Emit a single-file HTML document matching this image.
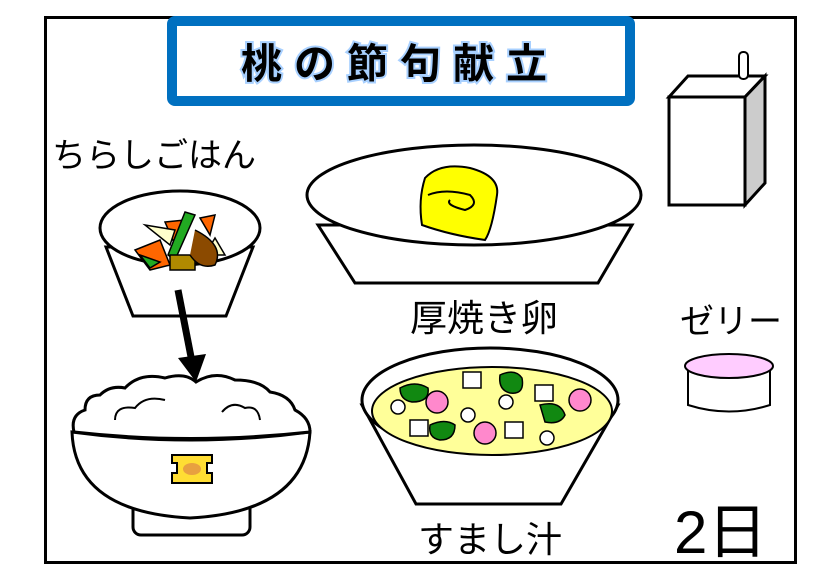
<!DOCTYPE html>
<html><head><meta charset="utf-8"><style>
html,body{margin:0;padding:0;background:#fff;}
svg{display:block;}
text{font-family:"Liberation Sans","Noto Sans CJK JP",sans-serif;}
</style></head><body>
<svg width="840" height="580" viewBox="0 0 840 580" xmlns="http://www.w3.org/2000/svg">
<rect x="0" y="0" width="840" height="580" fill="#fff"/>
<rect x="45.5" y="17.5" width="750" height="545" fill="none" stroke="#000" stroke-width="3"/>
<!-- title -->
<rect x="172" y="21" width="458" height="80" rx="3" fill="#fff" stroke="#0070c0" stroke-width="10"/>
<text x="400" y="78" text-anchor="middle" font-size="41" font-weight="bold" letter-spacing="12" fill="#000" stroke="#a8d0ff" stroke-width="4" paint-order="stroke">桃の節句献立</text>
<!-- labels -->
<text x="52" y="167" font-size="34">ちらしごはん</text>
<text x="410" y="331" font-size="37">厚焼き卵</text>
<text x="680" y="333" font-size="34">ゼリー</text>
<text x="418" y="552" font-size="36">すまし汁</text>
<text x="674" y="553" font-size="60">2日</text>
<!-- chirashi bowl -->
<g stroke="#000" stroke-width="3" fill="#fff">
<path d="M106,247 L133,316 L226,316 L253,247 Z"/>
<ellipse cx="180" cy="228" rx="80" ry="37"/>
</g>
<g stroke="#000" stroke-width="1.5">
<polygon points="135,250 160,240 170,265 150,270" fill="#ff6600"/>
<polygon points="165,222 185,220 175,245" fill="#ff6600"/>
<polygon points="200,218 215,215 210,235" fill="#ff6600"/>
<polygon points="145,225 175,230 170,245" fill="#ffffcc"/>
<polygon points="215,238 225,255 205,255" fill="#ffffcc"/>
<polygon points="185,212 195,215 175,260 168,255" fill="#22aa22"/>
<rect x="170" y="255" width="25" height="15" fill="#b08a00"/>
<path d="M195,230 Q225,245 215,265 Q200,270 190,255" fill="#8b4a00"/>
<polygon points="140,255 160,262 150,268" fill="#22aa22"/>
</g>
<!-- arrow -->
<line x1="178" y1="290" x2="192" y2="362" stroke="#000" stroke-width="7"/>
<polygon points="178,358 206,354 196,382" fill="#000"/>
<!-- rice bowl -->
<g stroke="#000" stroke-width="3" fill="#fff">
<rect x="133" y="500" width="117" height="35" rx="8"/>
<path d="M72,432 Q75,512 190,518 Q305,512 310,432 Q190,448 72,432 Z"/>
<path d="M74,432 Q70,415 85,410 Q85,395 100,395 Q110,385 125,388 Q140,372 165,378 Q185,372 196,382 Q215,370 235,380 Q260,380 270,392 Q290,395 295,410 Q310,418 310,432 Q190,445 74,432 Z"/>
<path d="M115,420 Q115,405 135,408 Q145,395 165,400" fill="none" stroke-width="2"/>
<path d="M222,412 Q232,400 245,408 Q258,405 260,420" fill="none" stroke-width="2"/>
</g>
<g stroke="#000" stroke-width="2" fill="#ffdd33">
<path d="M172,455 h40 v8 h-5 v10 h5 v10 h-40 v-10 h5 v-10 h-5 Z"/>
</g>
<ellipse cx="192" cy="469" rx="9" ry="6" fill="#e8a040"/>
<!-- plate -->
<g stroke="#000" stroke-width="3" fill="#fff">
<path d="M318,225 L355,283 L598,283 L632,225 Z"/>
<ellipse cx="474" cy="195" rx="167" ry="50"/>
</g>
<path d="M425,178 Q440,162 470,168 Q500,176 497,195 Q492,230 485,240 Q450,235 422,225 Q418,200 425,178 Z" fill="#ffff00" stroke="#000" stroke-width="2"/>
<path d="M428,195 Q445,188 470,195 Q480,205 465,210 Q445,205 450,200" fill="none" stroke="#000" stroke-width="2"/>
<!-- milk carton -->
<g stroke="#000" stroke-width="3">
<polygon points="669,97 688,76 765,76 745,97" fill="#fff"/>
<polygon points="745,97 765,76 765,183 745,205" fill="#ccc"/>
<rect x="669" y="97" width="76" height="108" fill="#fff"/>
<rect x="739" y="52" width="9" height="27" rx="4" fill="#fff" stroke-width="2"/>
</g>
<!-- soup -->
<g stroke="#000" stroke-width="3" fill="#fff">
<path d="M362,405 L416,504 L561,504 L618,405 Z"/>
<ellipse cx="490" cy="400" rx="128" ry="52"/>
</g>
<ellipse cx="492" cy="411" rx="120" ry="44" fill="#ffff99" stroke="#000" stroke-width="2"/>
<g stroke="#000" stroke-width="1.5">
<path d="M400,388 Q415,380 428,388 Q430,402 412,402 Q400,400 400,388Z" fill="#118811"/>
<path d="M500,375 Q515,368 522,378 Q525,395 510,393 Q498,390 500,375Z" fill="#118811"/>
<path d="M430,425 Q445,418 455,425 Q455,440 440,440 Q428,438 430,425Z" fill="#118811"/>
<path d="M540,405 Q560,400 565,415 Q560,425 545,422Z" fill="#118811"/>
<rect x="463" y="372" width="18" height="16" fill="#fff"/>
<rect x="535" y="385" width="18" height="16" fill="#fff"/>
<rect x="410" y="420" width="18" height="16" fill="#fff"/>
<rect x="505" y="422" width="18" height="16" fill="#fff"/>
<circle cx="398" cy="407" r="7" fill="#fff"/>
<circle cx="506" cy="402" r="7" fill="#fff"/>
<circle cx="468" cy="415" r="7" fill="#fff"/>
<circle cx="547" cy="438" r="7" fill="#fff"/>
<circle cx="437" cy="402" r="11" fill="#ff88cc"/>
<circle cx="485" cy="433" r="11" fill="#ff88cc"/>
<circle cx="580" cy="400" r="11" fill="#ff88cc"/>
</g>
<!-- jelly -->
<g stroke="#000" stroke-width="2">
<path d="M688,367 L688,405 Q729,418 770,405 L770,367 Z" fill="#fff"/>
<ellipse cx="729" cy="366" rx="44" ry="12" fill="#ffccff"/>
</g>
</svg>
</body></html>
